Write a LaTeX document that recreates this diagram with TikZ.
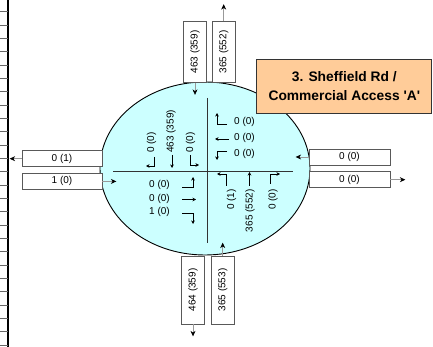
\documentclass[tikz,border=0pt]{standalone}
\usepackage{fontspec}
\setmainfont{Liberation Sans}[Ligatures=TeXOff]
\usetikzlibrary{arrows.meta, shapes.geometric, positioning}

\definecolor{isle}{HTML}{CCFFFF}
\definecolor{peach}{HTML}{FFCC99}

\begin{document}
\begin{tikzpicture}[x=1pt, y=-1pt, >={Stealth[length=5.5pt,width=5pt,black]},
	font=\fontsize{10}{12}\selectfont,
	lbox/.style={draw=black!65, fill=white, line width=0.7pt, inner sep=0pt},
	hbox/.style={lbox, minimum width=80pt, minimum height=16pt},
	vbox/.style={lbox, minimum width=23pt, minimum height=61pt},
	feed/.style={->, draw=black!40, line width=0.7pt},
	turn/.style={->, line width=0.9pt, >={Stealth[length=3.5pt,width=3.5pt]}},
	vol/.style={inner sep=0pt}]
	\useasboundingbox (0,0) rectangle (433,347);

	% spreadsheet edge
	\draw[line width=1.2pt] (8,0) -- (8,347);
	\foreach \k in {0,...,25}
		\draw[black!60] (0,{11.7+13.33*\k}) -- (8,{11.7+13.33*\k});

	% junction
	\node (isect) [ellipse, draw, fill=isle, line width=0.9pt,
		minimum width=210pt, minimum height=173pt, inner sep=0pt] at (205,168.5) {};
	\draw[black!80, line width=0.7pt] (113,171) -- (293,171);
	\draw[black!80, line width=0.7pt] (207,98) -- (207,243);

	% approach boxes
	\node (tl) [vbox] at (195,52) {\rotatebox{90}{463 (359)}};
	\node (tr) [vbox, right=5pt of tl] {\rotatebox{90}{365 (552)}};
	\node (bl) [vbox, minimum height=68pt] at (193,290) {\rotatebox{90}{464 (359)}};
	\node (br) [vbox, minimum height=68pt, right=6pt of bl] {\rotatebox{90}{365 (553)}};
	\node (lu) [hbox] at (62,158.7) {0 (1)};
	\node (ll) [hbox, below=6pt of lu] {1 (0)};
	\node (ru) [hbox, minimum width=81pt] at (349.5,157) {0 (0)};
	\node (rl) [hbox, minimum width=81pt, below=6pt of ru] {0 (0)};

	\draw[feed] (tl.south) -- ++(0,12) coordinate (tl-tip);
	\draw[feed] (tr.north) -- ++(0,-17) coordinate (tr-tip);
	\draw[feed] (bl.south) -- ++(0,12) coordinate (bl-tip);
	\draw[feed] (br.north) -- ++(0,-13) coordinate (br-tip);
	\draw[feed] (lu.west) -- ++(-12,0) coordinate (lu-tip);
	\draw[feed] (ll.east) -- ++(14,0) coordinate (ll-tip);
	\draw[feed] (ru.west) -- ++(-13,0) coordinate (ru-tip);
	\draw[feed] (rl.east) -- ++(15,0) coordinate (rl-tip);

	% title
	\node (title) [draw=black!80, fill=peach, line width=0.7pt, minimum width=175pt,
		minimum height=54pt, align=center,
		font=\bfseries\fontsize{13.8}{19}\selectfont] at (344.3,86)
		{3. Sheffield Rd /\\Commercial Access 'A'};

	% southbound movements
	\node (s-r) [vol, rotate=90, anchor=west] at (151.5,153) {0 (0)};
	\node (s-t) [vol, rotate=90, anchor=west] at (171,153) {463 (359)};
	\node (s-l) [vol, rotate=90, anchor=west] at (190.5,153) {0 (0)};
	\draw[turn] (154,157) -- (154,166) -- (146,166);
	\draw[turn] (172,155) -- (172,168);
	\draw[turn] (190,155) -- (190,165) -- (199,165);

	% westbound movements
	\node (w-r) [vol, anchor=west] at (234,122) {0 (0)};
	\node (w-t) [vol, anchor=west] at (234,138) {0 (0)};
	\node (w-l) [vol, anchor=west] at (234,154) {0 (0)};
	\draw[turn] (227,124) -- (217,124) -- (217,113);
	\draw[turn] (229,139) -- (215,139);
	\draw[turn] (227,151) -- (217,151) -- (217,160);

	% eastbound movements
	\node (e-l) [vol, anchor=east] at (170,185) {0 (0)};
	\node (e-t) [vol, anchor=east] at (170,198.5) {0 (0)};
	\node (e-r) [vol, anchor=east] at (170,212) {1 (0)};
	\draw[turn] (182,187) -- (193,187) -- (193,177);
	\draw[turn] (182,199.5) -- (196,199.5);
	\draw[turn] (182,213) -- (193,213) -- (193,224);

	% northbound movements
	\node (n-l) [vol, rotate=90, anchor=east] at (231.5,189) {0 (1)};
	\node (n-t) [vol, rotate=90, anchor=east] at (250,189) {365 (552)};
	\node (n-r) [vol, rotate=90, anchor=east] at (273,189) {0 (0)};
	\draw[turn] (226,186) -- (226,174) -- (217,174);
	\draw[turn] (249.5,186) -- (249.5,172);
	\draw[turn] (270,184) -- (270,174) -- (280,174);
\end{tikzpicture}
\end{document}
